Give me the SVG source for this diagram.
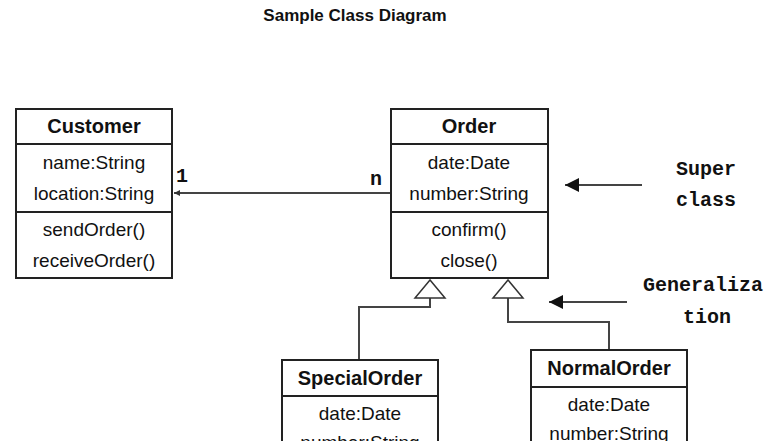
<svg xmlns="http://www.w3.org/2000/svg" width="784" height="441" viewBox="0 0 784 441">
<defs>
<style>
.box{fill:#fff;stroke:#222;stroke-width:2}
.ln{fill:none;stroke:#444;stroke-width:2}
.nm{font-family:"Liberation Sans",Arial,sans-serif;font-size:20px;font-weight:bold;text-anchor:middle;fill:#111}
.tx{font-family:"Liberation Sans",Arial,sans-serif;font-size:19px;text-anchor:middle;fill:#111}
.note{font-family:"Liberation Mono","Courier New",monospace;font-size:20px;font-weight:bold;fill:#111}
.tri{fill:#fff;stroke:#333;stroke-width:1.5}
</style>
<marker id="ah" viewBox="0 0 10 10" refX="10" refY="5" markerWidth="6" markerHeight="6" orient="auto" markerUnits="userSpaceOnUse"><path d="M0,0L10,5L0,10z" fill="#333"/></marker>
<marker id="bh" viewBox="0 0 10 10" refX="10" refY="5" markerWidth="14" markerHeight="14" orient="auto" markerUnits="userSpaceOnUse"><path d="M0,0L10,5L0,10z" fill="#111"/></marker>
</defs>
<rect width="784" height="441" fill="#fff"/>
<text x="355" y="21" font-family="Liberation Sans,Arial,sans-serif" font-size="17" font-weight="bold" text-anchor="middle" fill="#111">Sample Class Diagram</text>
<g id="connectors">
<line class="ln" x1="391" y1="193" x2="174" y2="193" marker-end="url(#ah)"/>
<text class="note" x="176" y="182" font-size="16">1</text>
<text class="note" x="370" y="185" font-size="16">n</text>
<polyline class="ln" points="359,360 359,307 430,307 430,298"/>
<polygon class="tri" points="430,280 415,298 445,298"/>
<polyline class="ln" points="609,350 609,322 508,322 508,298"/>
<polygon class="tri" points="508,280 493,298 523,298"/>
<line class="ln" x1="642" y1="185" x2="565" y2="185" marker-end="url(#bh)"/>
<line class="ln" x1="627" y1="302" x2="549" y2="302" marker-end="url(#bh)"/>
</g>
<g id="customer">
<rect class="box" x="16" y="109" width="156" height="169"/>
<line class="box" x1="16" y1="144" x2="172" y2="144"/>
<line class="box" x1="16" y1="212" x2="172" y2="212"/>
<text class="nm" x="94" y="133">Customer</text>
<text class="tx" x="94" y="169">name:String</text>
<text class="tx" x="94" y="200">location:String</text>
<text class="tx" x="94" y="236">sendOrder()</text>
<text class="tx" x="94" y="267">receiveOrder()</text>
</g>
<g id="order">
<rect class="box" x="391" y="109" width="157" height="169"/>
<line class="box" x1="391" y1="144" x2="548" y2="144"/>
<line class="box" x1="391" y1="212" x2="548" y2="212"/>
<text class="nm" x="469" y="133">Order</text>
<text class="tx" x="469" y="169">date:Date</text>
<text class="tx" x="469" y="200">number:String</text>
<text class="tx" x="469" y="236">confirm()</text>
<text class="tx" x="469" y="267">close()</text>
</g>
<g id="specialorder">
<rect class="box" x="282" y="360" width="156" height="100"/>
<line class="box" x1="282" y1="396" x2="438" y2="396"/>
<text class="nm" x="360" y="385">SpecialOrder</text>
<text class="tx" x="360" y="420">date:Date</text>
<text class="tx" x="360" y="449">number:String</text>
</g>
<g id="normalorder">
<rect class="box" x="531" y="350" width="156" height="110"/>
<line class="box" x1="531" y1="387" x2="687" y2="387"/>
<text class="nm" x="609" y="375">NormalOrder</text>
<text class="tx" x="609" y="411">date:Date</text>
<text class="tx" x="609" y="440">number:String</text>
</g>
<g id="notes">
<text class="note" x="676" y="175">Super</text>
<text class="note" x="676" y="206">class</text>
<text class="note" x="643" y="291">Generaliza</text>
<text class="note" x="683" y="323">tion</text>
</g>
</svg>
